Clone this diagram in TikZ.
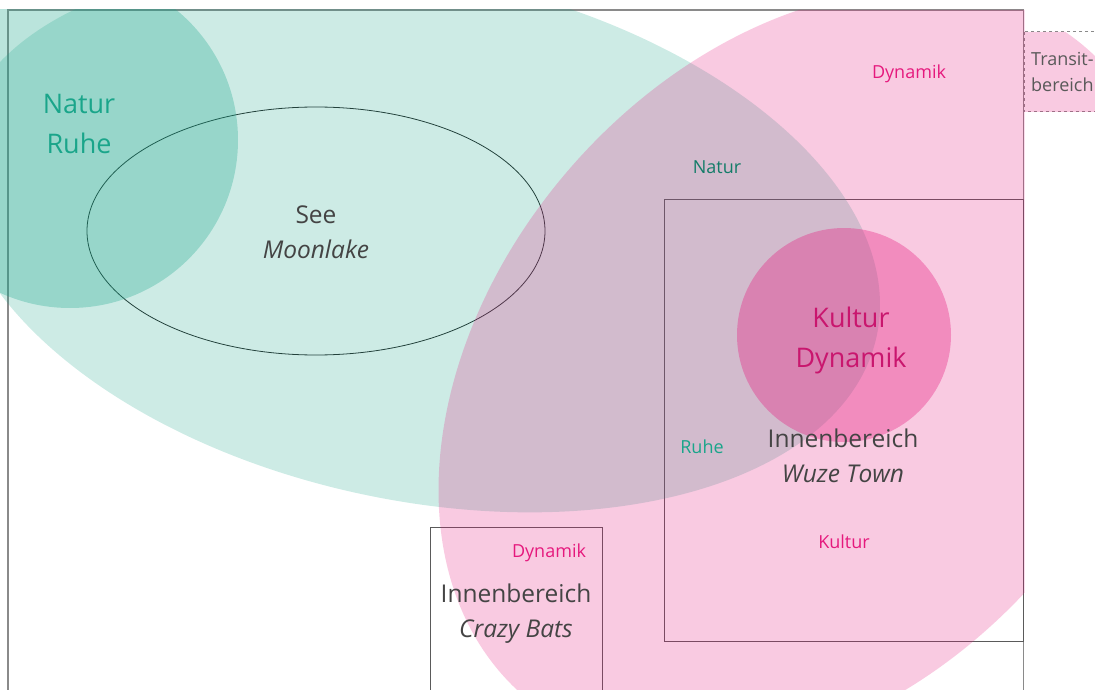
\documentclass[tikz,border=0pt]{standalone}
\usepackage{fontspec}
\setmainfont{Open Sans}

\definecolor{naturgreen}{RGB}{26,165,138}
\definecolor{kulturpink}{RGB}{229,25,125}
\definecolor{labelgrey}{RGB}{68,68,68}
\definecolor{framegrey}{RGB}{138,138,138}
\definecolor{boxgrey}{RGB}{90,90,90}

\tikzset{
  bigtext/.style={align=center, font=\fontsize{27}{40}\selectfont},
  areatext/.style={align=center, text=labelgrey, font=\fontsize{24.5}{35}\selectfont},
  tagtext/.style={anchor=base, font=\fontsize{18}{24}\selectfont},
  areabox/.style={draw=boxgrey, line width=1pt},
}

\begin{document}
\begin{tikzpicture}[x=1pt, y=-1pt]
  % Picture frame
  \clip (0,0) rectangle (1095,690);

  % Outlines of the areas
  \draw[framegrey, line width=1.6pt] (8,10) rectangle (1023.5,720);
  \draw[areabox] (664,199) rectangle (1023.5,641);
  \draw[areabox] (430,527.5) rectangle (602.5,720);
  \draw[framegrey, dashed, line width=1pt] (1024,32) rectangle (1120,112);
  \draw[black!85, line width=0.8pt] (316,231) ellipse [x radius=229, y radius=124];

  % Natur zones
  \begin{scope}
    \clip (-10,10) rectangle (1095,700);
    \fill[naturgreen, fill opacity=0.22, rotate around={-12:(417,238)}] (417,238) ellipse [x radius=470, y radius=262];
    \fill[naturgreen, fill opacity=0.3] (70,140) circle [radius=168];
  \end{scope}

  % Kultur zones
  \begin{scope}
    \clip (-10,10) rectangle (1024.5,700) (1024,32) rectangle (1120,112);
    \fill[kulturpink, fill opacity=0.23, rotate around={49:(805,372)}] (805,372) ellipse [x radius=429, y radius=311];
  \end{scope}
  \fill[kulturpink, fill opacity=0.35] (844,335) circle [radius=107];

  % Labels
  \node[bigtext, text=naturgreen] (naturruhe) at (79,123.5) {Natur\\Ruhe};
  \node[bigtext, text=kulturpink!88!black] (kulturdynamik) at (851,340) {Kultur\\Dynamik};
  \node[areatext] (see) at (316,232) {See\\\textit{Moonlake}};
  \node[areatext] (wuze) at (843,456) {Innenbereich\\\textit{Wuze Town}};
  \node[areatext] (bats) at (516,614) {Innenbereich\\\textit{Crazy Bats}};

  \node[tagtext, text=kulturpink] (dynamiktop) at (909,79) {Dynamik};
  \node[tagtext, text=naturgreen!75!black] (naturtag) at (717,174) {Natur};
  \node[tagtext, text=naturgreen] (ruhetag) at (702,453) {Ruhe};
  \node[tagtext, text=kulturpink] (kulturtag) at (844,548) {Kultur};
  \node[tagtext, text=kulturpink] (dynamikbats) at (549,557) {Dynamik};

  \node[anchor=west, align=left, inner sep=0pt, text=black!65, font=\fontsize{18}{26}\selectfont] (transit) at (1031,71.5) {Transit-\\bereich};
\end{tikzpicture}
\end{document}
